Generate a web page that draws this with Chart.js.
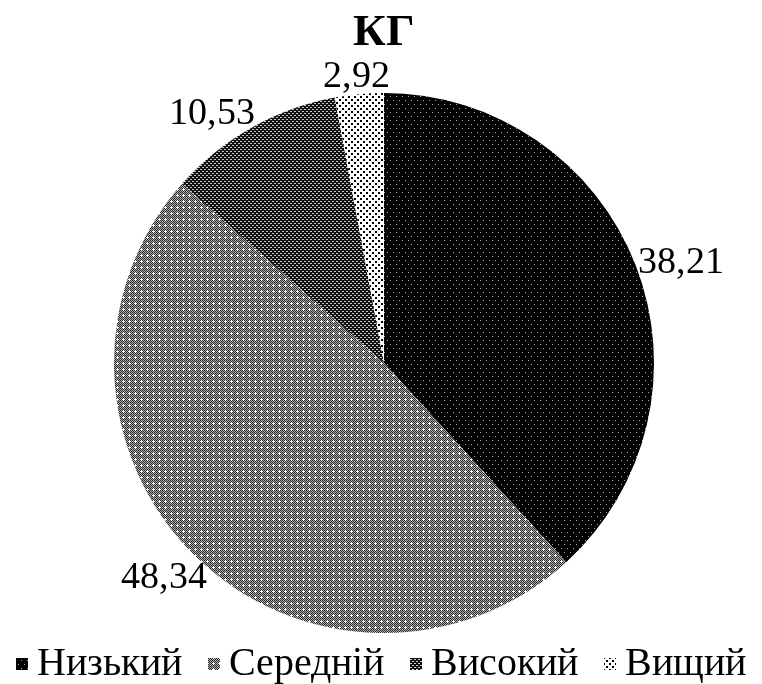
<!DOCTYPE html>
<html>
<head>
<meta charset="utf-8">
<script src="https://cdn.jsdelivr.net/npm/chart.js@4/dist/chart.umd.min.js"></script>
<style>
  html, body { margin: 0; padding: 0; background: #fff; }
  #wrap { width: 762px; height: 684px; }
</style>
</head>
<body>
<div id="wrap"><canvas id="c" width="762" height="684"></canvas></div>
<script>
const chartTitle = 'КГ';
const categories = ['Низький', 'Середній', 'Високий', 'Вищий'];
const values = [38.21, 48.34, 10.53, 2.92];
const valueLabels = ['38,21', '48,34', '10,53', '2,92'];

const SERIF = "LSerif, 'Liberation Serif', 'DejaVu Serif', serif";
const SAMPLE = 'КГ Низький Середній Високий Вищий 0123456789,';

function makePattern(w, h, bg, fg, pixels) {
  const c = document.createElement('canvas');
  c.width = w; c.height = h;
  const g = c.getContext('2d');
  g.fillStyle = bg; g.fillRect(0, 0, w, h);
  g.fillStyle = fg;
  pixels.forEach(p => g.fillRect(p[0], p[1], p[2] || 1, p[3] || 1));
  return g.createPattern(c, 'repeat');
}

function patMidMake() {
  const c = document.createElement('canvas');
  c.width = 6; c.height = 6;
  const g = c.getContext('2d');
  for (let y = 0; y < 6; y++) for (let x = 0; x < 6; x++) {
    g.fillStyle = ((x + y) % 2 === 0) ? '#2a2a2a' : '#b0b0b0';
    g.fillRect(x, y, 1, 1);
  }
  g.fillStyle = '#fff';
  g.fillRect(3, 2, 1, 3); g.fillRect(2, 3, 3, 1);
  return g.createPattern(c, 'repeat');
}

let built = false;
function build() {
  if (built) return;
  built = true;
  Chart.defaults.font.family = SERIF;
  Chart.defaults.color = '#000';

  const patLow = makePattern(6, 8, '#000', '#aaa', [[0,0],[3,4]]);
  const patMid = patMidMake();
  const patHigh = makePattern(4, 4, '#111', '#c8c8c8', [[0,1,2,1],[2,3,2,1]]);
  const patTop = makePattern(6, 6, '#fff', '#000', [[0,0,2,2],[3,3,2,2]]);
  const patterns = [patLow, patMid, patHigh, patTop];

  // value labels outside the slices
  const outLabels = {
    id: 'outLabels',
    afterDatasetsDraw(chart) {
      const ctx = chart.ctx;
      const meta = chart.getDatasetMeta(0);
      ctx.save();
      ctx.font = '38px ' + SERIF;
      ctx.fillStyle = '#000';
      ctx.textAlign = 'center';
      ctx.textBaseline = 'middle';
      meta.data.forEach((arc, i) => {
        const mid = (arc.startAngle + arc.endAngle) / 2;
        const r = arc.outerRadius;
        const ux = Math.cos(mid), uy = Math.sin(mid);
        const px = arc.x + ux * r, py = arc.y + uy * r;
        const w = ctx.measureText(valueLabels[i]).width;
        const h = 30;
        let cx = px + ux * (w / 2);
        const cy = py + uy * (h / 2 + 8) + 6;
        if (uy < 0) {
          // keep upper labels clear of the pie, sliding them sideways
          const s = ux >= 0 ? 1 : -1;
          const dy = Math.min(Math.abs(cy - 11 - arc.y), Math.abs(cy + 11 - arc.y));
          const lim = r + 2;
          if (dy < lim) {
            const need = Math.sqrt(lim * lim - dy * dy);
            const inner = cx - s * (w / 2 - 3) - arc.x;
            if (Math.abs(inner) < need) cx += s * (need - Math.abs(inner));
          }
        }
        ctx.fillText(valueLabels[i], cx, cy);
      });
      ctx.restore();
    }
  };

  // legend drawn in the reserved bottom band, from the chart's own labels & fills
  const bottomLegend = {
    id: 'bottomLegend',
    afterDraw(chart) {
      const ctx = chart.ctx;
      const ds = chart.data.datasets[0];
      const labels = chart.data.labels;
      const box = 12, textGap = 9, itemGap = 26;
      ctx.save();
      ctx.font = '40px ' + SERIF;
      const widths = labels.map(l => ctx.measureText(l).width);
      const total = widths.reduce((s, w) => s + box + textGap + w, 0) + itemGap * (labels.length - 1);
      let x = (chart.width - total) / 2;
      const yMid = chart.chartArea.bottom + 31;
      ctx.textBaseline = 'middle';
      ctx.textAlign = 'left';
      labels.forEach((l, i) => {
        ctx.fillStyle = ds.backgroundColor[i];
        ctx.fillRect(x, yMid - box / 2, box, box);
        ctx.fillStyle = '#000';
        ctx.fillText(l, x + box + textGap, yMid);
        x += box + textGap + widths[i] + itemGap;
      });
      ctx.restore();
    }
  };

  const chart = new Chart(document.getElementById('c'), {
    type: 'pie',
    data: {
      labels: categories,
      datasets: [{
        data: values,
        backgroundColor: patterns,
        borderWidth: 0
      }]
    },
    options: {
      responsive: false,
      animation: false,
      layout: { padding: { top: 0, bottom: 51, left: 6, right: 0 } },
      plugins: {
        title: {
          display: true,
          text: chartTitle,
          color: '#000',
          font: { family: SERIF, size: 45, weight: 'bold' },
          padding: { top: 6, bottom: 33 }
        },
        legend: { display: false },
        tooltip: { enabled: false }
      }
    },
    plugins: [outLabels, bottomLegend]
  });
  [100, 400, 1000, 2000].forEach(t => setTimeout(() => chart.update('none'), t));
}

function loadFaces() {
  const faces = [
    new FontFace('LSerif', "local('Liberation Serif'), local('LiberationSerif')", { weight: 'normal' }),
    new FontFace('LSerif', "local('Liberation Serif Bold'), local('LiberationSerif-Bold')", { weight: 'bold' })
  ];
  return Promise.all(faces.map(f => f.load().then(ff => { document.fonts.add(ff); }, () => {})))
    .then(() => Promise.all([
      document.fonts.load('38px ' + SERIF, SAMPLE),
      document.fonts.load('40px ' + SERIF, SAMPLE),
      document.fonts.load('bold 45px ' + SERIF, SAMPLE)
    ]));
}

setTimeout(build, 1500);
loadFaces().then(build, build);
</script>
</body>
</html>
